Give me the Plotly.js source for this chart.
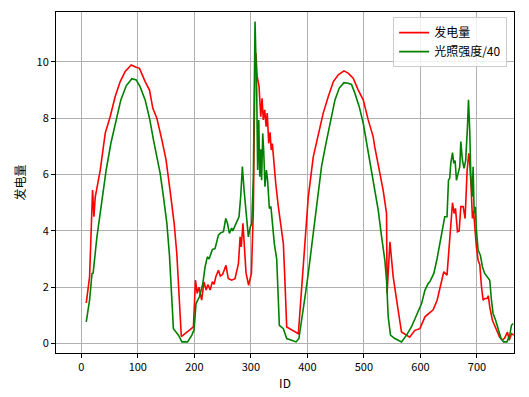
<!DOCTYPE html>
<html>
<head>
<meta charset="utf-8">
<script src="https://cdn.plot.ly/plotly-3.0.1.min.js"></script>
<style>html,body{margin:0;padding:0;background:#fff;}#chart{width:529px;height:397px;}</style>
</head>
<body>
<div id="chart"></div>
<script>
const redIds = [8.8,14.7,20,22.4,24.7,33.6,42.4,51.2,60,68.9,77.7,88.3,97.2,103,113,120.7,126.6,133.7,142.6,150,157,164.3,169,173.7,177,198.4,202,205,208,213,217,221,224,228,232,235,238,242.6,246,250,256,260,266,272,278,281,283,286,289,291.5,296,301,304.4,307.4,309,311,314.5,317.5,319.8,322,324.5,327,329,331.6,334,336,338,341,344,348.6,352.8,357.5,360,363.4,384,388,395.8,401.6,410.4,419.3,428,437,446,454.6,464.7,472,481,490,498.8,507.6,516.4,519,527,534,540,541,546,551.8,560.6,566.5,581,590,599,608,616.6,622.5,629.5,637,641.3,647,653,656.7,659.6,662,665.5,668.5,671.4,675.6,679,682.6,685.5,687,689.5,692,694,696,699,702,705,708,710.8,713.7,717.8,720,722.6,727.3,733,740,745,749,754,757,761,765];
const power = [1.44,2.37,5.45,4.5,5.2,6.16,7.47,8.06,8.77,9.3,9.66,9.89,9.81,9.77,9.3,9.0,8.35,8.0,7.23,6.52,5.45,4.27,3.2,1.54,0.25,0.59,2.25,1.78,2.0,1.54,2.19,1.9,2.1,1.9,2.2,2.1,2.37,2.6,2.4,2.45,2.78,2.31,2.25,2.3,2.84,3.79,3.43,4.27,3.32,2.5,2.07,2.49,4.74,10.07,10.3,9.5,9.12,8.05,8.71,7.94,8.3,7.7,8.18,7.11,7.5,6.87,7.1,6.28,5.69,4.86,4.15,3.55,2.37,0.59,0.35,1.42,3.79,5.21,6.63,7.46,8.18,8.77,9.3,9.54,9.68,9.6,9.42,9.0,8.65,7.94,7.34,7.0,6.16,5.45,4.62,1.78,3.61,2.37,1.18,0.41,0.23,0.47,0.53,0.95,1.1,1.2,1.54,2.25,2.55,2.43,3.91,5.0,4.62,4.8,3.97,4.0,4.86,4.86,4.44,6.16,6.75,6.5,5.6,4.44,4.7,4.15,3.43,2.96,2.8,2.01,1.54,1.6,1.6,1.7,1.3,0.83,0.53,0.23,0.12,0.2,0.41,0.12,0.35,0.3];

const greenIds = [8.8,14.7,19,21,27.7,36.5,44,52.4,61.3,70,79.5,89.5,97.2,104,113,120.7,127.7,133.7,139.6,145.4,151.4,156,159,163,172,178,188,195.6,199.6,203,209,215,219,223,226,229,232,236.6,242.6,246.6,251.5,255.6,258.6,262,266,268,271,276,279,282,285,288,291.5,295.6,298.6,301.5,304.4,307.4,310.4,312,314,315.7,317.5,319,321,322.6,325,327.5,329.6,332.7,335.5,338,341.5,345.7,350.4,357.5,363.4,372,380,385,390,395.8,401.6,407.5,413.4,419.3,425,432.9,440,448.8,456.4,464.7,472,478,484,491.7,498.8,505.8,513.6,519.4,525.3,531.3,537,540,543,547,554.8,566.5,575.4,584,590,596,602,608,613.6,616.6,623.7,629.5,635.5,640,643,647,649.6,651.8,653.7,656.7,659,661.3,663.7,666.6,669.6,671.4,674.3,677.2,680,683.2,685,687.3,689,691.4,693.2,695,697,699,702,706,709.7,713.7,717.8,722.6,725.6,728.5,733,738,742.6,747,753,758,761,764];
const light40 = [0.77,1.54,2.49,2.5,3.79,4.98,6.16,7.11,7.94,8.65,9.15,9.4,9.36,9.12,8.65,8.0,7.23,6.63,6.04,5.21,4.27,3.14,1.78,0.53,0.3,0.06,0.06,0.3,0.5,1.42,1.66,2.13,2.72,3.08,3.0,3.2,3.34,3.37,3.85,3.93,3.97,4.44,4.27,3.91,4.1,4.0,4.15,4.38,4.5,5.21,6.28,5.45,4.62,3.79,4.1,4.27,5.9,11.43,8.89,6.16,7.94,5.92,6.9,5.8,7.46,6.9,5.57,6.16,5.8,4.8,4.86,4.27,3.55,3.0,0.65,0.53,0.18,0.12,0.06,0.18,0.95,1.66,2.49,3.43,4.38,5.33,6.28,7.11,7.82,8.65,9.07,9.26,9.24,9.2,8.89,8.41,7.82,6.99,6.16,5.45,4.74,3.79,2.96,2.25,0.95,0.3,0.18,0.06,0.3,0.59,0.89,1.12,1.42,1.9,2.13,2.19,2.49,3.02,3.67,4.2,4.5,4.5,5.8,5.87,6.4,6.78,6.4,6.5,5.8,6.04,6.28,7.17,6.5,6.22,6.5,7.7,8.65,7.5,6.0,5.21,6.28,4.62,4.86,4.03,3.32,3.14,2.72,2.49,2.37,2.25,1.54,1.07,0.83,0.47,0.18,0.06,0.06,0.3,0.65,0.71];

const seriesNames = ['发电量', '光照强度/40'];
const xTitle = 'ID';
const yTitle = '发电量';

const font = '"Noto Sans CJK SC", "DejaVu Sans", sans-serif';

const traces = [
  {x: redIds, y: power, name: seriesNames[0], type: 'scatter', mode: 'lines', line: {color: '#ff0000', width: 1.6}},
  {x: greenIds, y: light40, name: seriesNames[1], type: 'scatter', mode: 'lines', line: {color: '#008000', width: 1.6}}
];

const axisCommon = {
  showline: true, mirror: true, linecolor: '#000', linewidth: 1,
  ticks: 'outside', ticklen: 4, tickcolor: '#000', tickwidth: 1,
  showgrid: true, gridcolor: '#b0b0b0', gridwidth: 1,
  zeroline: false,
  tickfont: {family: font, size: 11, color: '#000'}
};

const layout = {
  width: 529, height: 397,
  margin: {l: 56, r: 15, t: 12, b: 44},
  paper_bgcolor: '#fff', plot_bgcolor: '#fff',
  font: {family: font, size: 11, color: '#000'},
  showlegend: true,
  legend: {
    x: 0.985, y: 0.985, xanchor: 'right', yanchor: 'top',
    bgcolor: 'rgba(255,255,255,0.8)', bordercolor: '#cccccc', borderwidth: 1,
    font: {family: font, size: 12, color: '#000'},
    itemwidth: 30, tracegroupgap: 0
  },
  xaxis: Object.assign({}, axisCommon, {
    range: [-44.7, 765.5], tickmode: 'linear', tick0: 0, dtick: 100,
    title: {text: xTitle, font: {family: font, size: 12, color: '#000'}, standoff: 6}
  }),
  yaxis: Object.assign({}, axisCommon, {
    range: [-0.334, 11.77], tickmode: 'linear', tick0: 0, dtick: 2,
    title: {text: yTitle, font: {family: font, size: 12, color: '#000'}, standoff: 8}
  })
};

Plotly.newPlot('chart', traces, layout, {displayModeBar: false, staticPlot: true});
</script>
</body>
</html>
